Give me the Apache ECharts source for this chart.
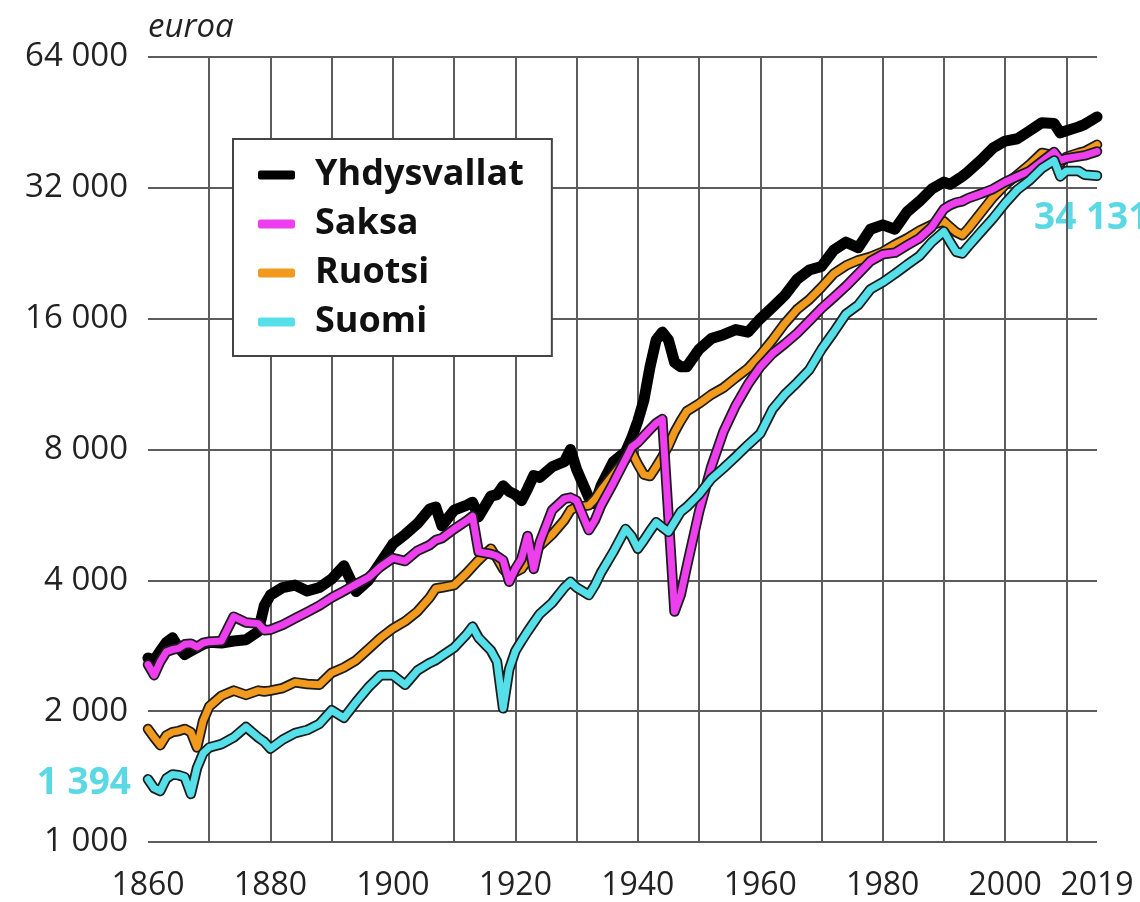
<!DOCTYPE html>
<html lang="fi">
<head>
<meta charset="UTF-8">
<title>BKT asukasta kohden</title>
<script src="https://cdn.jsdelivr.net/npm/echarts@6/dist/echarts.min.js"></script>
<style>
  html, body { margin: 0; padding: 0; background: #fff; }
  #main { width: 1140px; height: 902px; }
</style>
</head>
<body>
<div id="main"></div>
<script type="text/javascript">
// vuodet ja arvot (euroa / asukas), luettu kuvasta
var years = [
  1860, 1861, 1862, 1863, 1864, 1865, 1866, 1867, 1868, 1869, 1870,
  1872, 1874, 1876, 1878, 1879, 1880, 1882, 1884, 1886, 1888, 1890,
  1892, 1894, 1896, 1898, 1900, 1902, 1904, 1906, 1907, 1908, 1910,
  1912, 1913, 1914, 1916, 1917, 1918, 1919, 1920, 1921, 1922, 1923,
  1924, 1926, 1928, 1929, 1930, 1932, 1933, 1934, 1936, 1938, 1939,
  1940, 1941, 1942, 1943, 1944, 1945, 1946, 1947, 1948, 1950, 1952,
  1954, 1956, 1958, 1960, 1962, 1964, 1966, 1968, 1970, 1972, 1974,
  1976, 1978, 1980, 1982, 1984, 1986, 1988, 1990, 1991, 1992, 1993,
  1994, 1996, 1998, 2000, 2002, 2004, 2006, 2008, 2009, 2010, 2012,
  2013, 2015
];

var yhdysvallat = [
  2650, 2620, 2750, 2880, 2950, 2800, 2700, 2750, 2800, 2850, 2880,
  2870, 2900, 2920, 3050, 3500, 3700, 3850, 3900, 3780, 3850, 4030,
  4320, 3770, 4000, 4400, 4850, 5100, 5400, 5840, 5900, 5340, 5800,
  5950, 6050, 5600, 6250, 6300, 6600, 6400, 6300, 6100, 6500, 6970,
  6900, 7300, 7500, 8000, 7200, 6200, 6000, 6600, 7500, 7900, 8500,
  9300, 10400, 12400, 14300, 14900, 14300, 12700, 12400, 12400, 13600, 14400,
  14700, 15100, 14900, 16000, 17000, 18100, 19700, 20700, 21100, 23000, 24000,
  23300, 25700, 26300, 25700, 28200, 29800, 31800, 33000, 32600, 33300, 34000,
  34900, 37000, 39500, 41000, 41500, 43300, 45200, 45000, 42800, 43300, 44200,
  44800, 46600
];

var saksa = [
  2560, 2420, 2600, 2740, 2770, 2790, 2850, 2860, 2810, 2870, 2890,
  2900, 3300, 3200, 3180, 3070, 3080, 3160, 3270, 3380, 3500, 3650,
  3780, 3920, 4060, 4300, 4500, 4430, 4680, 4820, 4950, 5000, 5250,
  5480, 5620, 4650, 4600, 4550, 4450, 3970, 4250, 4480, 5060, 4250,
  4900, 5800, 6160, 6200, 6100, 5220, 5500, 5950, 6700, 7600, 8100,
  8300, 8600, 8900, 9200, 9400, 5650, 3390, 3700, 4300, 5750, 7300,
  8800, 10100, 11300, 12400, 13300, 14000, 14800, 15800, 16900, 17900, 19000,
  20300, 21700, 22500, 22700, 23600, 24500, 26000, 28600, 29200, 29600, 29800,
  30300, 31000, 31800, 33000, 34000, 35000, 36800, 38700, 37000, 37400, 37800,
  38000, 38800
];

var ruotsi = [
  1820, 1740, 1670, 1760, 1790, 1800, 1820, 1790, 1650, 1900, 2050,
  2170, 2230, 2180, 2230, 2220, 2230, 2260, 2330, 2310, 2300, 2450,
  2520, 2620, 2780, 2950, 3100, 3220, 3390, 3650, 3830, 3850, 3900,
  4150, 4300, 4450, 4730, 4500, 4250, 4100, 4180, 4250, 4450, 4650,
  4800, 5100, 5500, 5800, 5900, 5950, 6150, 6450, 7000, 7600, 7900,
  7400, 7000, 6950, 7300, 7700, 8150, 8770, 9300, 9800, 10200, 10700,
  11100, 11700, 12300, 13200, 14300, 15600, 16800, 17700, 18900, 20300, 21200,
  21800, 22200, 22800, 23700, 24500, 25500, 26300, 26800, 26000, 25300, 24900,
  25800, 28000, 30400, 32500, 34300, 36200, 38500, 38000, 36500, 37700, 38500,
  38800, 40200
];

var suomi = [
  1394, 1330, 1310, 1400, 1430, 1425, 1410, 1290, 1480, 1600, 1650,
  1680, 1740, 1840, 1740, 1700, 1640, 1720, 1780, 1810, 1870, 2010,
  1930, 2100, 2270, 2420, 2420, 2300, 2480, 2580, 2620, 2680, 2800,
  3000, 3130, 2950, 2760, 2600, 2030, 2500, 2750, 2900, 3050, 3200,
  3350, 3550, 3850, 3970, 3850, 3700, 3900, 4170, 4650, 5250, 5050,
  4730, 4950, 5200, 5440, 5300, 5170, 5450, 5750, 5900, 6300, 6850,
  7250, 7700, 8200, 8700, 9900, 10700, 11400, 12200, 13600, 14900, 16400,
  17200, 18700, 19400, 20300, 21300, 22300, 24000, 25400, 24000, 22800, 22600,
  23500, 25300, 27200, 29500, 31700, 33300, 35500, 37000, 34000, 35000, 35000,
  34300, 34131
];

// akselien tekstit
var yTickLabels = ['1 000', '2 000', '4 000', '8 000', '16 000', '32 000', '64 000'];
var xLabelYears = [1860, 1880, 1900, 1920, 1940, 1960, 1980, 2000];
var xEndLabel = '2019';

var font = 'Open Sans';
var xMin = 1860, xMax = 2015;

function toLog(vals) {
  return years.map(function (y, i) { return [y, Math.log2(vals[i] / 1000)]; });
}

function fmt(v) {
  return String(Math.round(v)).replace(/\B(?=(\d{3})+(?!\d))/g, ' ');
}

function outline(vals) {
  return {
    type: 'line', name: '_reuna', data: toLog(vals), silent: true,
    symbol: 'none', color: '#1c1c1c',
    lineStyle: { width: 10.5, color: '#1c1c1c', cap: 'round', join: 'round' }
  };
}

function colored(name, vals, col) {
  return {
    type: 'line', name: name, data: toLog(vals),
    symbol: 'none', color: col,
    lineStyle: { width: 7, color: col, cap: 'round', join: 'round' }
  };
}

var myChart = echarts.init(document.getElementById('main'));

var option = {
  animation: false,
  backgroundColor: '#fff',
  grid: { left: 148, right: 43, top: 57, bottom: 58 },
  legend: {
    data: ['Yhdysvallat', 'Saksa', 'Ruotsi', 'Suomi'],
    orient: 'vertical',
    left: 233, top: 139,
    padding: [18, 28, 16, 25],
    itemGap: 13,
    itemWidth: 37, itemHeight: 9,
    icon: 'roundRect',
    backgroundColor: '#fff',
    borderColor: '#444', borderWidth: 2,
    textStyle: { fontFamily: font, fontSize: 36, fontWeight: 'bold', color: '#111', padding: [0, 0, 0, 15] }
  },
  xAxis: {
    type: 'value', min: xMin, max: xMax, interval: 10,
    axisLine: { show: false }, axisTick: { show: false },
    splitLine: { show: true, showMinLine: false, showMaxLine: false, lineStyle: { color: '#5c5c5c', width: 2 } },
    axisLabel: {
      margin: 28, fontFamily: font, fontSize: 32, color: '#222', showMaxLabel: true,
      formatter: function (v) {
        if (v === xMax) return xEndLabel;
        return xLabelYears.indexOf(v) >= 0 ? String(v) : '';
      }
    }
  },
  yAxis: {
    type: 'value', min: 0, max: 6, interval: 1,
    name: 'euroa', nameLocation: 'end', nameGap: 13,
    nameTextStyle: { fontFamily: font, fontSize: 33, fontStyle: 'italic', color: '#222', align: 'left' },
    axisLine: { show: false }, axisTick: { show: false },
    splitLine: { show: true, lineStyle: { color: '#5c5c5c', width: 2 } },
    axisLabel: {
      margin: 20, fontFamily: font, fontSize: 33, color: '#222',
      formatter: function (v) { return yTickLabels[Math.round(v)]; }
    }
  },
  graphic: [
    { type: 'text', right: 1140 - 131, top: 765,
      style: { text: fmt(suomi[0]), fontFamily: font, fontSize: 37, fontWeight: 'bold', fill: '#5ad8e4' } },
    { type: 'text', left: 1034, top: 200,
      style: { text: fmt(suomi[suomi.length - 1]), fontFamily: font, fontSize: 37, fontWeight: 'bold', fill: '#5ad8e4' } }
  ],
  series: [
    {
      type: 'line', name: 'Yhdysvallat', data: toLog(yhdysvallat),
      symbol: 'none', color: '#000',
      lineStyle: { width: 11, color: '#000', cap: 'round', join: 'round' }
    },
    outline(ruotsi), colored('Ruotsi', ruotsi, '#f29a1d'),
    outline(saksa), colored('Saksa', saksa, '#ee3fee'),
    outline(suomi), colored('Suomi', suomi, '#55e0e9')
  ]
};

myChart.setOption(option);
</script>
</body>
</html>
